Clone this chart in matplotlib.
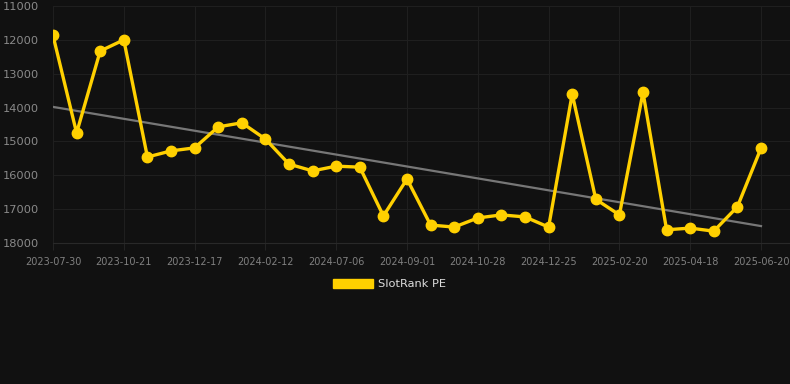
import numpy as np
import matplotlib.pyplot as plt
from matplotlib.patches import Patch

# valores (eje y invertido)
tick_labels = ['2023-07-30', '2023-10-21', '2023-12-17', '2024-02-12', '2024-07-06',
               '2024-09-01', '2024-10-28', '2024-12-25', '2025-02-20', '2025-04-18',
               '2025-06-20']
pe_values = [11870, 14750, 12330, 12000, 15460, 15280, 15190, 14570, 14450, 14930,
             15670, 15870, 15730, 15760, 17200, 16110, 17470, 17530, 17260, 17170,
             17230, 17530, 13600, 16710, 17170, 13550, 17610, 17560, 17650, 16930,
             15200]
trend_ends = [13980, 17500]
series_name = 'SlotRank PE'

BG = '#111111'
GOLD = '#FFD000'

x = np.arange(len(pe_values))

fig = plt.figure(figsize=(7.9, 3.84), dpi=100, facecolor=BG)
ax = fig.add_axes([53 / 790, 1 - 243 / 384, (790 - 53) / 790, (243 - 6) / 384])
ax.set_facecolor(BG)

# linea de tendencia
ax.plot([x[0], x[-1]], trend_ends, color='#777777', lw=1.6, zorder=2)
# serie principal
ax.plot(x, pe_values, color=GOLD, lw=2.4, marker='o', ms=7.5, zorder=3)

step = (761 - 53) / 30
ax.set_xlim(0, 30 + (790 - 761) / step)
ax.set_ylim(18000, 11000)
ax.set_yticks(range(11000, 18001, 1000))
ax.set_xticks(x[::3])
ax.set_xticklabels(tick_labels)

ax.grid(True, color='#1f1f1f', lw=0.8)
ax.set_axisbelow(True)
for s in ax.spines.values():
    s.set_visible(False)
ax.spines['bottom'].set_visible(True)
ax.spines['bottom'].set_color('#292929')
ax.tick_params(axis='x', colors='#232323', length=5, width=0.8, labelcolor='#808080',
               labelsize=7, pad=5)
ax.tick_params(axis='y', length=0, labelcolor='#8a8a8a', labelsize=8.2, pad=10)

leg = fig.legend(handles=[Patch(color=GOLD, label=series_name)], loc='center',
                 bbox_to_anchor=(389.5 / 790, 1 - 284 / 384), frameon=False,
                 handlelength=3.5, handleheight=0.9, handletextpad=0.5,
                 fontsize=8.2, labelcolor='#dddddd')

fig.savefig('out.png', dpi=100, facecolor=BG)
